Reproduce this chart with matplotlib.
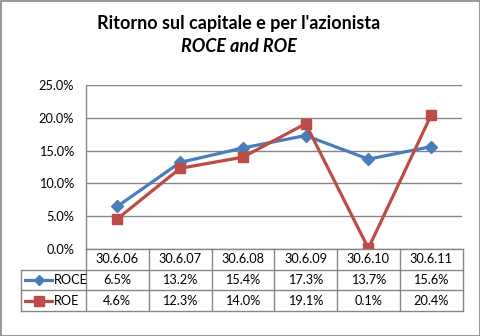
import matplotlib.pyplot as plt
from matplotlib.patches import Rectangle

# data
dates = ['30.6.06', '30.6.07', '30.6.08', '30.6.09', '30.6.10', '30.6.11']
roce = [6.5, 13.2, 15.4, 17.3, 13.7, 15.6]
roe = [4.6, 12.3, 14.0, 19.1, 0.1, 20.4]
series_names = ['ROCE', 'ROE']
y_ticks = [0, 5, 10, 15, 20, 25]

blue = '#4A7EBB'
red = '#BE4B48'
grid = '#868686'
plt.rcParams['font.family'] = ['Lato', 'DejaVu Sans']

W, H = 481, 336
fig = plt.figure(figsize=(W / 100, H / 100), dpi=100)
fig.patches.append(Rectangle((0.5 / W, 0.5 / H), 1 - 1.5 / W, 1 - 1.5 / H, transform=fig.transFigure,
                             fill=False, edgecolor=grid, linewidth=1.2))

fig.text(239 / W, 1 - 24 / H, "Ritorno sul capitale e per l'azionista", ha='center', va='center',
         fontsize=13, fontweight='bold')
fig.text(239 / W, 1 - 46 / H, 'ROCE and ROE', ha='center', va='center',
         fontsize=13, fontweight='bold', style='italic')

# chart area
x0, x1 = 86, 462.5
ytop, ybot = 85, 249
ax = fig.add_axes([x0 / W, 1 - ybot / H, (x1 - x0) / W, (ybot - ytop) / H])
xs = list(range(len(dates)))
ax.plot(xs, roce, color=blue, lw=2.3, marker='D', ms=6, zorder=3)
ax.plot(xs, roe, color=red, lw=2.3, marker='s', ms=7, zorder=3)
ax.set_xlim(-0.5, len(dates) - 0.5)
ax.set_ylim(0, 25)
ax.set_yticks(y_ticks)
ax.set_yticklabels([f'{v:.1f}%' for v in y_ticks], fontsize=9.2)
ax.tick_params(axis='y', length=0, pad=8.5)
ax.set_xticks([])
for v in y_ticks:
    ax.axhline(v, color=grid, lw=1, zorder=1)
for s in ['top', 'right', 'bottom']:
    ax.spines[s].set_visible(False)
ax.spines['left'].set_color(grid)
ax.spines['left'].set_linewidth(1)

# data table
tl = 20.7
col_w = (x1 - x0) / len(dates)
xl = -0.5 - (x0 - tl) / col_w
tb = fig.add_axes([tl / W, 1 - 311 / H, (x1 - tl) / W, (311 - ybot) / H])
tb.set_xlim(xl, len(dates) - 0.5)
tb.set_ylim(3, 0)
tb.axis('off')
lk = dict(color=grid, lw=1, clip_on=False)
tb.plot([-0.5, len(dates) - 0.5], [0, 0], **lk)
for r in [1, 2, 3]:
    tb.plot([xl, len(dates) - 0.5], [r, r], **lk)
tb.plot([xl, xl], [1, 3], **lk)
for c in range(len(dates) + 1):
    tb.plot([c - 0.5, c - 0.5], [0, 3], **lk)
fs = 9.2
for i, d in enumerate(dates):
    tb.text(i, 0.5, d, ha='center', va='center', fontsize=fs)
    tb.text(i, 1.5, f'{roce[i]:.1f}%', ha='center', va='center', fontsize=fs)
    tb.text(i, 2.5, f'{roe[i]:.1f}%', ha='center', va='center', fontsize=fs)
for r, (name, col, mk, ms) in enumerate(zip(series_names, [blue, red], ['D', 's'], [5, 6.5])):
    y = 1.5 + r
    tb.plot([xl + 0.07, xl + 0.5], [y, y], color=col, lw=2.3)
    tb.plot([xl + 0.285], [y], color=col, marker=mk, ms=ms)
    tb.text(xl + 0.53, y, name, ha='left', va='center', fontsize=fs)

fig.savefig('out.png', dpi=100)
